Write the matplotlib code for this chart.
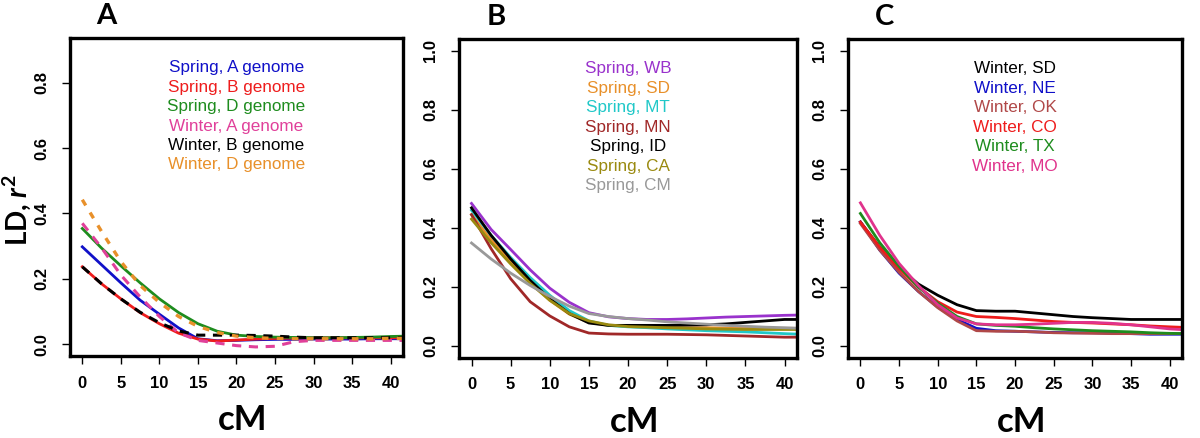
"""
LD decay (r^2) against genetic distance (cM) for spring and winter wheat panels.
"""

import matplotlib
matplotlib.use("Agg")
import matplotlib.pyplot as plt

plt.rcParams['font.family'] = ['Liberation Sans', 'DejaVu Sans']
plt.rcParams['mathtext.fontset'] = 'custom'
plt.rcParams['mathtext.rm'] = 'Lato:bold'
plt.rcParams['mathtext.it'] = 'Lato:bold:italic'
plt.rcParams['mathtext.bf'] = 'Lato:bold'

# Distance grid (cM) shared by every curve
dist = [0, 2.5, 5, 7.5, 10, 12.5, 15, 17.5, 20, 22.5, 25, 27.5, 30, 32.5, 35, 37.5, 40, 42]

# Panel A: genomes
spring_a = [.298, .243, .188, .135, .092, .050, .017, .011, .012, .014, .015, .015, .016, .016, .016, .017, .017, .017]
spring_b = [.237, .185, .139, .097, .063, .034, .016, .010, .013, .016, .018, .019, .020, .020, .020, .020, .020, .020]
spring_d = [.354, .294, .240, .188, .139, .097, .063, .040, .028, .024, .022, .021, .020, .020, .021, .022, .024, .025]
winter_a = [.370, .295, .212, .145, .085, .035, .012, .004, -.004, -.008, -.006, .008, .012, .012, .012, .012, .012, .012]
winter_b = [.237, .185, .139, .098, .066, .041, .028, .028, .028, .027, .025, .022, .020, .020, .020, .020, .020, .020]
winter_d = [.442, .345, .253, .180, .128, .085, .055, .036, .025, .020, .018, .017, .017, .017, .017, .017, .018, .018]

genome_labels = ['Spring, A genome', 'Spring, B genome', 'Spring, D genome',
                 'Winter, A genome', 'Winter, B genome', 'Winter, D genome']
genome_colors = ['#1010C8', '#EE1C1C', '#1E8C1E', '#E0409A', '#000000', '#E8902A']

# Panel B: spring wheat programs
sp_wb = [.483, .395, .327, .258, .196, .148, .113, .099, .093, .090, .090, .092, .095, .098, .100, .102, .104, .105]
sp_sd = [.445, .360, .285, .215, .155, .108, .080, .070, .066, .064, .063, .062, .062, .061, .060, .060, .060, .060]
sp_mt = [.460, .375, .300, .232, .172, .120, .085, .070, .065, .062, .058, .055, .052, .050, .048, .045, .042, .040]
sp_mn = [.445, .330, .228, .150, .102, .065, .044, .041, .040, .040, .040, .039, .038, .036, .034, .032, .030, .030]
sp_id = [.468, .375, .295, .222, .160, .110, .078, .070, .070, .070, .070, .071, .072, .075, .080, .085, .090, .090]
sp_ca = [.430, .350, .278, .212, .155, .110, .085, .072, .066, .064, .062, .060, .058, .057, .056, .056, .056, .056]
sp_cm = [.349, .295, .247, .205, .168, .135, .110, .100, .093, .088, .082, .078, .074, .070, .067, .064, .062, .060]

spring_labels = ['Spring, WB', 'Spring, SD', 'Spring, MT', 'Spring, MN',
                 'Spring, ID', 'Spring, CA', 'Spring, CM']
spring_colors = ['#9932CC', '#E8902A', '#20C8C8', '#A02828', '#000000', '#9A8A10', '#999999']

# Panel C: winter wheat programs
wi_sd = [.420, .335, .265, .210, .172, .140, .120, .118, .118, .112, .106, .100, .096, .093, .090, .090, .090, .090]
wi_ne = [.420, .325, .247, .185, .132, .090, .060, .052, .050, .048, .046, .045, .045, .044, .042, .040, .040, .040]
wi_ok = [.415, .325, .250, .185, .130, .085, .052, .050, .050, .048, .045, .044, .043, .042, .042, .042, .042, .042]
wi_co = [.420, .335, .262, .200, .150, .115, .100, .097, .093, .088, .083, .080, .078, .075, .072, .068, .065, .063]
wi_tx = [.449, .350, .270, .200, .145, .100, .075, .070, .067, .062, .058, .055, .052, .050, .048, .045, .043, .042]
wi_mo = [.485, .375, .280, .205, .140, .095, .075, .072, .072, .074, .077, .080, .080, .077, .072, .065, .058, .055]

winter_labels = ['Winter, SD', 'Winter, NE', 'Winter, OK', 'Winter, CO', 'Winter, TX', 'Winter, MO']
winter_colors = ['#000000', '#1010C8', '#B04848', '#EE1C1C', '#1E8C1E', '#E0338C']

x_ticks = [0, 5, 10, 15, 20, 25, 30, 35, 40]

fig = plt.figure(figsize=(12, 4.38), dpi=100)
axA = fig.add_axes([0.0583, 0.187, 0.2775, 0.726])
axB = fig.add_axes([0.3825, 0.183, 0.2817, 0.728])
axC = fig.add_axes([0.7067, 0.183, 0.2783, 0.728])

big = dict(family=['Lato', 'DejaVu Sans'], fontweight='bold')


def style_axis(ax, ymax, yticks, letter):
    pad = 0.04
    ax.set_xlim(-1.6, 41.6)
    ax.set_ylim(-ymax * pad, ymax * (1 + pad))
    ax.set_xticks(x_ticks)
    ax.set_yticks(yticks)
    ax.set_yticklabels([f'{v:.1f}' for v in yticks], rotation=90, va='center')
    ax.tick_params(direction='out', length=6, width=1, labelsize=12)
    ax.tick_params(axis='x', pad=8)
    ax.tick_params(axis='y', pad=9)
    for lab in ax.get_xticklabels() + ax.get_yticklabels():
        lab.set_fontweight('bold')
    for sp in ax.spines.values():
        sp.set_linewidth(2.4)
    ax.set_xlabel('cM', fontsize=25, **big)
    ax.xaxis.set_label_coords(0.52, -0.15)
    ax.text(0.11, 1.068, letter, transform=ax.transAxes, fontsize=21,
            ha='center', va='center', **big)


def legend_text(ax, labels, colors):
    for i, (lab, col) in enumerate(zip(labels, colors)):
        ax.text(0.5, 0.906 - i * 0.061, lab, color=col, fontsize=12.3,
                ha='center', va='center', transform=ax.transAxes)


# A
lw = 2.0
axA.plot(dist, spring_a, color=genome_colors[0], lw=lw)
axA.plot(dist, spring_b, color=genome_colors[1], lw=lw)
axA.plot(dist, spring_d, color=genome_colors[2], lw=lw)
axA.plot(dist, winter_a, color=genome_colors[3], lw=2.2, ls=(0, (3, 2.5)))
axA.plot(dist, winter_b, color=genome_colors[4], lw=2.2, ls=(0, (3, 2.5)))
axA.plot(dist, winter_d, color=genome_colors[5], lw=2.4, ls=(0, (2, 2.5)))
style_axis(axA, 0.9, [0, 0.2, 0.4, 0.6, 0.8], 'A')
legend_text(axA, genome_labels, genome_colors)
fig.text(0.014, 0.52, 'LD, $\\mathit{r}^{2}$', fontsize=20, rotation=90,
         ha='center', va='center', **big)

# B
for series, col in zip([sp_wb, sp_sd, sp_mt, sp_mn, sp_id, sp_ca, sp_cm], spring_colors):
    axB.plot(dist, series, color=col, lw=lw)
style_axis(axB, 1.0, [0, 0.2, 0.4, 0.6, 0.8, 1.0], 'B')
legend_text(axB, spring_labels, spring_colors)

# C
for series, col in zip([wi_sd, wi_ne, wi_ok, wi_co, wi_tx, wi_mo], winter_colors):
    axC.plot(dist, series, color=col, lw=lw)
style_axis(axC, 1.0, [0, 0.2, 0.4, 0.6, 0.8, 1.0], 'C')
legend_text(axC, winter_labels, winter_colors)

plt.savefig('out.png', dpi=100)
